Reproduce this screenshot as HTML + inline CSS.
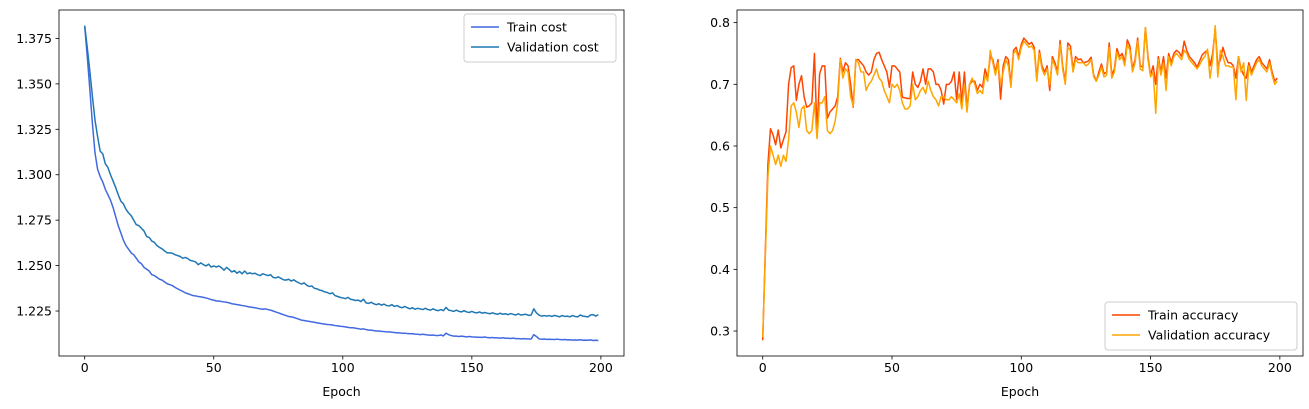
<!DOCTYPE html>
<html><head><meta charset="utf-8"><style>
body{margin:0;background:#fff;}
svg{display:block;font-family:"DejaVu Sans","Liberation Sans",sans-serif;}
</style></head><body>
<svg id="fig" width="1309" height="409" viewBox="0 0 1309 409" xmlns="http://www.w3.org/2000/svg"></svg>
<script>
const epochsCount = 200;
const costTicksY = [1.225,1.250,1.275,1.300,1.325,1.350,1.375];
const costTickLabels = ["1.225","1.250","1.275","1.300","1.325","1.350","1.375"];
const accTicksY = [0.3,0.4,0.5,0.6,0.7,0.8];
const accTickLabels = ["0.3","0.4","0.5","0.6","0.7","0.8"];
const epochTicks = [0,50,100,150,200];
const epochTickLabels = ["0","50","100","150","200"];

const trainCost = [1.382,1.365,1.347,1.328,1.312,1.303,1.299,1.296,1.292,1.289,1.286,1.282,1.277,1.272,1.268,1.264,1.261,1.259,1.257,1.256,
1.254,1.252,1.251,1.249,1.248,1.247,1.245,1.2445,1.2435,1.2425,1.242,1.241,1.240,1.2395,1.239,1.238,1.2372,1.2365,1.2358,1.235,
1.2345,1.234,1.2335,1.2333,1.233,1.2328,1.2325,1.2322,1.2318,1.2313,1.231,1.2305,1.2305,1.2302,1.23,1.2298,1.2295,1.229,1.2288,1.2285,
1.2283,1.228,1.2278,1.2275,1.2272,1.227,1.2268,1.2265,1.2262,1.226,1.2262,1.2258,1.2255,1.225,1.2245,1.224,1.2235,1.223,1.2225,1.222,
1.2218,1.2215,1.221,1.2205,1.220,1.2198,1.2195,1.2193,1.219,1.2188,1.2185,1.2183,1.218,1.2178,1.2176,1.2175,1.2173,1.217,1.2168,1.2166,
1.2165,1.2163,1.216,1.2158,1.2158,1.2155,1.2153,1.215,1.2152,1.2148,1.2145,1.2145,1.2142,1.214,1.214,1.2138,1.2137,1.2135,1.2135,1.2133,
1.2132,1.213,1.213,1.2128,1.2128,1.2126,1.2125,1.2125,1.2123,1.2122,1.212,1.2122,1.212,1.2118,1.2117,1.2118,1.2115,1.2115,1.2118,1.2113,
1.2128,1.212,1.2115,1.2112,1.2112,1.211,1.2112,1.211,1.2108,1.211,1.2108,1.2107,1.2106,1.2106,1.2105,1.2107,1.2104,1.2103,1.2104,1.2102,
1.2102,1.2101,1.2103,1.21,1.21,1.2099,1.2101,1.2098,1.2098,1.2097,1.2098,1.2097,1.2096,1.2096,1.212,1.211,1.2097,1.2095,1.2096,1.2094,
1.2095,1.2094,1.2093,1.2095,1.2093,1.2092,1.2093,1.2091,1.2092,1.209,1.2091,1.209,1.2092,1.2089,1.209,1.2089,1.2091,1.2088,1.2089,1.2088];

const valCost = [1.382,1.370,1.357,1.343,1.330,1.321,1.313,1.3115,1.306,1.304,1.300,1.2965,1.293,1.289,1.2855,1.284,1.281,1.279,1.2775,1.275,
1.2725,1.272,1.2705,1.269,1.266,1.2655,1.2635,1.2628,1.261,1.26,1.2592,1.258,1.257,1.257,1.2568,1.256,1.2555,1.255,1.254,1.2545,
1.2538,1.2528,1.2525,1.252,1.2505,1.2515,1.2505,1.2498,1.2508,1.2492,1.2498,1.2492,1.2498,1.2488,1.2475,1.249,1.2478,1.2465,1.2472,1.2458,
1.2468,1.2455,1.247,1.2455,1.246,1.2455,1.2458,1.245,1.2445,1.2455,1.245,1.2445,1.245,1.2435,1.2432,1.2438,1.243,1.2422,1.242,1.2425,
1.2415,1.2422,1.2412,1.2405,1.2398,1.2405,1.2392,1.2385,1.2388,1.2375,1.2372,1.2365,1.2362,1.2355,1.2352,1.2345,1.235,1.2335,1.233,1.2325,
1.2322,1.2318,1.2325,1.2315,1.2312,1.2308,1.231,1.2302,1.2315,1.2295,1.2292,1.2298,1.229,1.2285,1.229,1.2282,1.2288,1.228,1.2278,1.2285,
1.2275,1.228,1.2272,1.2268,1.2275,1.2268,1.2262,1.2268,1.226,1.2265,1.2262,1.2258,1.2265,1.2258,1.2255,1.2262,1.2255,1.2252,1.2258,1.2252,
1.227,1.2255,1.2252,1.2248,1.2255,1.2248,1.2245,1.2252,1.2245,1.2242,1.2248,1.2242,1.224,1.2245,1.2238,1.2242,1.2238,1.2235,1.224,1.2235,
1.2232,1.2238,1.2232,1.2235,1.223,1.2236,1.2232,1.2228,1.2235,1.2228,1.223,1.2232,1.2226,1.2228,1.2262,1.224,1.2228,1.2222,1.2225,1.2222,
1.2225,1.222,1.2226,1.2222,1.2218,1.2225,1.222,1.2222,1.2218,1.2225,1.222,1.2218,1.2228,1.2222,1.222,1.2218,1.2228,1.223,1.2222,1.223];

const trainAcc = [.285,.43,.57,.628,.618,.602,.626,.597,.61,.623,
.70,.727,.73,.674,.70,.714,.68,.663,.665,.67,
.75,.62,.717,.73,.73,.645,.655,.66,.665,.68,
.742,.72,.735,.73,.70,.663,.74,.74,.735,.73,
.72,.715,.72,.74,.75,.752,.74,.73,.72,.695,
.73,.73,.725,.72,.679,.678,.677,.677,.72,.70,
.695,.705,.725,.70,.725,.725,.72,.70,.70,.69,
.668,.70,.70,.705,.72,.675,.72,.67,.72,.66,
.70,.705,.705,.69,.70,.695,.725,.71,.745,.74,
.72,.74,.676,.73,.745,.74,.70,
.755,.76,.745,.765,.775,.77,.765,.768,.76,.709,
.755,.73,.72,.73,.69,.745,.735,.72,.771,.73,
.704,.767,.762,.725,.745,.74,.741,.735,.736,.738,
.744,.715,.705,.72,.733,.717,.72,.767,.715,.725,
.758,.745,.75,.736,.772,.762,.725,.74,.775,.73,
.728,.792,.745,.715,.73,.70,.745,.72,.745,.71,
.75,.735,.75,.755,.752,.745,.77,.755,.745,.74,
.735,.728,.738,.748,.752,.755,.73,.75,.79,.73,
.74,.76,.745,.735,.735,.73,.71,.745,.725,.715,
.71,.735,.72,.73,.74,.745,.735,.73,.725,.74,
.72,.705,.71];

const valAcc = [.29,.42,.55,.60,.585,.57,.585,.567,.585,.575,
.61,.665,.67,.655,.63,.66,.665,.625,.62,.625,
.67,.612,.67,.67,.68,.625,.62,.625,.64,.67,
.74,.71,.725,.72,.68,.665,.74,.735,.72,.72,
.69,.70,.705,.715,.725,.71,.705,.69,.68,.67,
.70,.695,.70,.69,.67,.66,.66,.665,.70,.675,
.68,.69,.695,.685,.705,.69,.68,.675,.665,.68,
.68,.675,.675,.68,.675,.67,.685,.66,.70,.655,
.70,.71,.70,.685,.69,.685,.715,.705,.755,.735,
.715,.735,.70,.72,.74,.73,.695,
.75,.755,.74,.76,.77,.765,.76,.762,.755,.705,
.75,.725,.715,.725,.70,.74,.73,.715,.765,.725,
.70,.76,.755,.72,.74,.735,.735,.735,.73,.733,
.74,.712,.705,.715,.728,.712,.715,.76,.71,.72,
.752,.74,.745,.73,.765,.755,.72,.735,.77,.725,
.722,.792,.74,.712,.72,.653,.74,.715,.735,.69,
.745,.73,.745,.75,.745,.74,.755,.75,.74,.735,
.73,.725,.732,.74,.745,.757,.71,.74,.795,.712,
.755,.745,.73,.73,.728,.728,.675,.745,.72,.735,
.674,.73,.715,.725,.735,.74,.73,.725,.72,.735,
.715,.70,.705];

const NS = "http://www.w3.org/2000/svg";
const fig = document.getElementById('fig');
function mk(tag, attrs, parent){
  const e = document.createElementNS(NS, tag);
  for (const k in attrs) e.setAttribute(k, attrs[k]);
  (parent||fig).appendChild(e);
  return e;
}

function drawAxes(cfg){
  const g = mk('g', {});
  
  
  const sx = v => cfg.x0 + (v - cfg.xmin) / (cfg.xmax - cfg.xmin) * (cfg.x1 - cfg.x0);
  const sy = v => cfg.y1 - (v - cfg.ymin) / (cfg.ymax - cfg.ymin) * (cfg.y1 - cfg.y0);
  // series
  cfg.series.forEach(s => {
    let d = '';
    s.data.forEach((v, i) => { d += (i ? 'L' : 'M') + sx(i).toFixed(2) + ',' + sy(v).toFixed(2); });
    const p = mk('path', {d: d, fill: 'none', stroke: s.color, 'stroke-width': 1.5, 'stroke-linejoin': 'round'}, g);
    
    
  });
  // frame
  const fr = mk('rect', {x: cfg.x0, y: cfg.y0, width: cfg.x1 - cfg.x0, height: cfg.y1 - cfg.y0, fill: 'none', stroke: '#000', 'stroke-width': 0.8}, g);
  
  
  // x ticks
  epochTicks.forEach((t, i) => {
    const x = sx(t);
    mk('line', {x1: x, x2: x, y1: cfg.y1, y2: cfg.y1 + 3.5, stroke: '#000', 'stroke-width': 0.8}, g);
    const tx = mk('text', {x: x, y: cfg.y1 + 16, 'font-size': 12.5, 'text-anchor': 'middle', fill: '#000'}, g);
    tx.textContent = epochTickLabels[i];
    
    
  });
  cfg.yticks.forEach((t, i) => {
    const y = sy(t);
    mk('line', {x1: cfg.x0 - 3.5, x2: cfg.x0, y1: y, y2: y, stroke: '#000', 'stroke-width': 0.8}, g);
    const ty = mk('text', {x: cfg.x0 - 7, y: y + 4.5, 'font-size': 12.5, 'text-anchor': 'end', fill: '#000'}, g);
    ty.textContent = cfg.ylabels[i];
    
    
  });
  const xl = mk('text', {x: (cfg.x0 + cfg.x1) / 2, y: cfg.y1 + 40, 'font-size': 12.5, 'text-anchor': 'middle', fill: '#000'}, g);
  xl.textContent = 'Epoch';
  
  
  // legend
  const L = cfg.legend;
  const lg = mk('g', {}, g);
  
  
  mk('rect', {x: L.x, y: L.y, width: L.w, height: 48, rx: 3, fill: '#fff', 'fill-opacity': 0.8, stroke: '#ccc', 'stroke-width': 1}, lg);
  cfg.series.forEach((s, i) => {
    const yy = L.y + 13 + i * 20;
    mk('line', {x1: L.x + 7, x2: L.x + 35, y1: yy, y2: yy, stroke: s.color, 'stroke-width': 1.5}, lg);
    const t = mk('text', {x: L.x + 43, y: yy + 4.5, 'font-size': 12.5, fill: '#000'}, lg);
    t.textContent = s.label;
    
    
  });
}

drawAxes({name: 'cost-chart', x0: 59, x1: 624, y0: 10, y1: 356, xmin: -9.95, xmax: 208.95,
  ymin: 1.20025, ymax: 1.39065, yticks: costTicksY, ylabels: costTickLabels,
  series: [{id: 'train-cost-line', label: 'Train cost', color: '#4169e1', data: trainCost},
           {id: 'validation-cost-line', label: 'Validation cost', color: '#1f77b4', data: valCost}],
  legend: {x: 464, y: 14, w: 152}});

drawAxes({name: 'accuracy-chart', x0: 737, x1: 1303, y0: 10, y1: 356, xmin: -9.95, xmax: 208.95,
  ymin: 0.2595, ymax: 0.8205, yticks: accTicksY, ylabels: accTickLabels,
  series: [{id: 'train-accuracy-line', label: 'Train accuracy', color: '#ff4500', data: trainAcc},
           {id: 'validation-accuracy-line', label: 'Validation accuracy', color: '#ffa500', data: valAcc}],
  legend: {x: 1105, y: 302, w: 192}});
</script>
</body></html>
